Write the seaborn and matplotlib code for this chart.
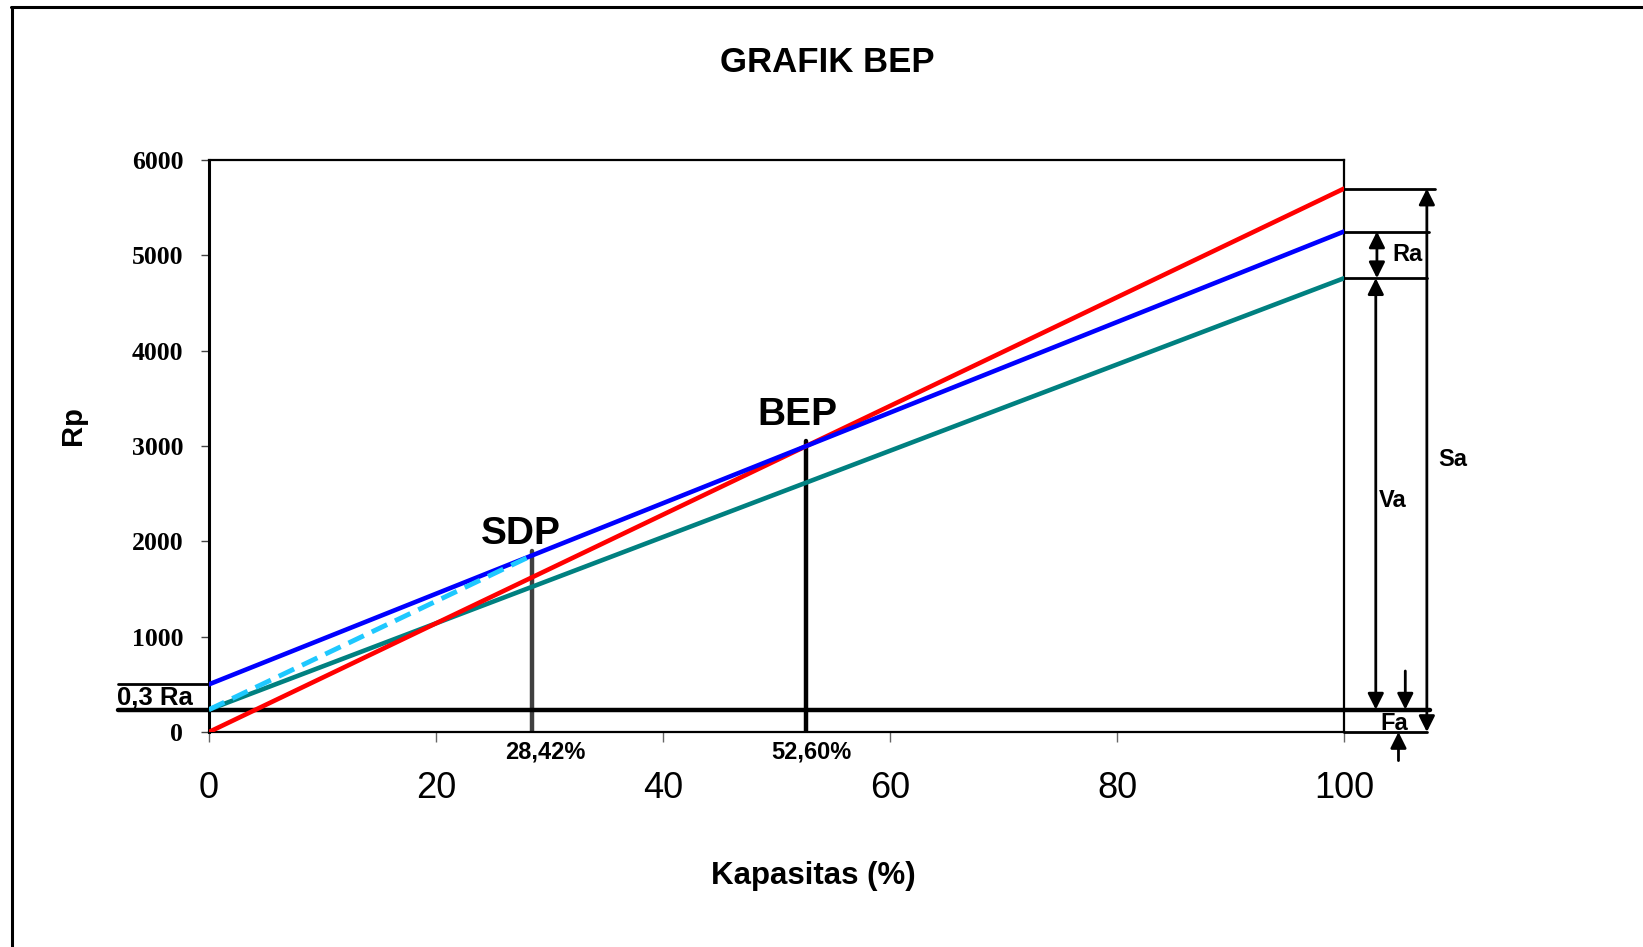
import numpy as np
import pandas as pd
import matplotlib
matplotlib.use("Agg")
import matplotlib.pyplot as plt
import seaborn as sns

# data
kapasitas = [0, 100]
sa_penjualan = [0, 5700]        # red - sales
biaya_total = [500, 5250]       # blue - total cost
biaya_variabel = [235, 4760]    # teal
sdp_x = [0, 28.42]
sdp_y = [235, 1850]
bep_x = 52.60
bep_top = 3050
sdp_top = 1900
level_03ra = 235
level_fixed = 500
x_ticks = [0, 20, 40, 60, 80, 100]
y_ticks = [0, 1000, 2000, 3000, 4000, 5000, 6000]

sns.set_style("white")
plt.rcParams['font.family'] = ['Liberation Sans', 'DejaVu Sans']
plt.rcParams['text.color'] = 'black'
plt.rcParams['xtick.color'] = 'black'
plt.rcParams['ytick.color'] = 'black'
plt.rcParams['axes.labelcolor'] = 'black'

fig = plt.figure(figsize=(16.43, 9.47), dpi=100)
ax = fig.add_axes([209/1643, 1-732/947, (1344-209)/1643, (732-160)/947])

#main lines
df = pd.DataFrame({"x": kapasitas, "sa": sa_penjualan, "tc": biaya_total, "vc": biaya_variabel})
sns.lineplot(data=df, x="x", y="vc", color="#008080", linewidth=3.3, ax=ax, zorder=3)
sns.lineplot(data=df, x="x", y="sa", color="#FF0000", linewidth=3.3, ax=ax, zorder=4)
sns.lineplot(data=df, x="x", y="tc", color="#0000FF", linewidth=3.3, ax=ax, zorder=5)
sns.lineplot(x=sdp_x, y=sdp_y, color="#1EC8FF", linewidth=3.5, linestyle=(0, (3.5, 1.8)), ax=ax, zorder=6)

#vertical lines at SDP and BEP
ax.plot([sdp_x[1], sdp_x[1]], [0, sdp_top], color="#404040", lw=3.2, zorder=2)
ax.plot([bep_x, bep_x], [0, bep_top], color="black", lw=3.2, zorder=2)

#horizontal reference lines (run outside the axes)
ax.plot([-8.0, 107.6], [level_03ra, level_03ra], color="black", lw=3.2, zorder=2.5, clip_on=False)
ax.plot([-8.0, 0], [level_fixed, level_fixed], color="black", lw=2, clip_on=False)
for yv, xe in [(sa_penjualan[1], 108.0), (biaya_total[1], 107.5), (biaya_variabel[1], 107.3), (0, 107.3)]:
    ax.plot([100, xe], [yv, yv], color="black", lw=2, clip_on=False)

#right side arrows
def arrow(x, y0, y1, style):
    ax.annotate("", xy=(x, y1), xytext=(x, y0), annotation_clip=False,
                arrowprops=dict(arrowstyle=style, color="black", lw=2,
                                mutation_scale=24, shrinkA=0, shrinkB=0))

arrow(102.9, biaya_variabel[1], biaya_total[1], "<|-|>")
arrow(102.8, level_03ra, biaya_variabel[1], "<|-|>")
arrow(107.3, 0, sa_penjualan[1], "<|-|>")
arrow(105.4, 640, level_03ra, "-|>")
arrow(104.8, -300, 0, "-|>")

lab = dict(fontsize=17, fontweight="bold", ha="center", va="center")
ax.text(105.6, 5005, "Ra", **lab)
ax.text(104.3, 2433, "Va", **lab)
ax.text(109.6, 2863, "Sa", **lab)
ax.text(104.4, 90, "Fa", **lab)
ax.text(-4.8, 354, "0,3 Ra", fontsize=18.5, fontweight="bold", ha="center", va="center")

ax.text(29.6, -213, "28,42%", fontsize=17, fontweight="bold", ha="center", va="center")
ax.text(53.1, -213, "52,60%", fontsize=17, fontweight="bold", ha="center", va="center")
ax.text(27.5, 2080, "SDP", fontsize=28, fontweight="bold", ha="center", va="center")
ax.text(51.8, 3320, "BEP", fontsize=28, fontweight="bold", ha="center", va="center")

#axes styling
ax.set_xlim(0, 100)
ax.set_ylim(0, 6000)
ax.set_xticks(x_ticks)
ax.set_yticks(y_ticks)
ax.set_xticklabels([str(v) for v in x_ticks], fontsize=26)
ax.set_yticklabels([str(v) for v in y_ticks], fontsize=18.5, fontweight="bold",
                   family=["Liberation Serif", "DejaVu Serif"])
ax.tick_params(axis="x", direction="out", length=7, width=1, color="#666666", pad=21, bottom=True)
ax.tick_params(axis="y", direction="out", length=5.5, width=1, color="#444444", pad=13, left=True)
ax.set_xlabel("")
ax.set_ylabel("")
for s in ax.spines.values():
    s.set_color("black")
    s.set_linewidth(1.6)
    s.set_visible(True)
ax.spines["left"].set_linewidth(2.2)

fig.text(827/1643, 1-62/947, "GRAFIK BEP", fontsize=25, fontweight="bold", ha="center", va="center")
fig.text(73/1643, 1-426/947, "Rp", fontsize=21, fontweight="bold", ha="center", va="center", rotation=90)
fig.text(813/1643, 1-876/947, "Kapasitas (%)", fontsize=22.5, fontweight="bold", ha="center", va="center")

#outer frame (left and top edges visible)
fig.add_artist(plt.Line2D([12/1643, 12/1643], [0, 1-7/947], color="black", lw=2.2))
fig.add_artist(plt.Line2D([11/1643, 1], [1-7/947, 1-7/947], color="black", lw=2.2))

fig.savefig("out.png", dpi=100)
